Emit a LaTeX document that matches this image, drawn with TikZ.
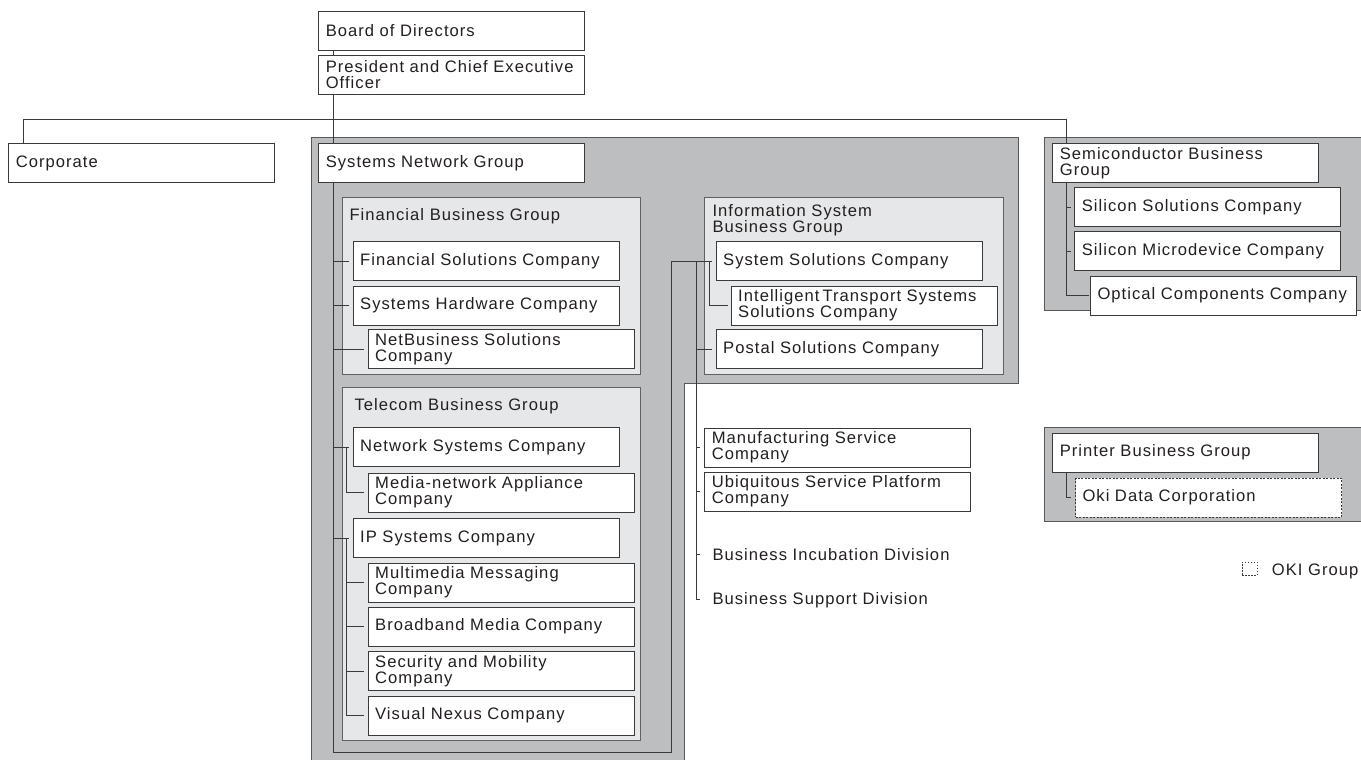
\documentclass[tikz,border=0pt]{standalone}
\usepackage{fontspec}
\setmainfont{Liberation Sans}[LetterSpace=6.2]
\usepackage{xcolor}
\usetikzlibrary{positioning}
\definecolor{ink}{HTML}{231F20}
\definecolor{rule}{HTML}{3A3A3A}
\definecolor{darkgrp}{HTML}{BDBEC0}
\definecolor{lightgrp}{HTML}{E6E7E8}

\begin{document}
\begin{tikzpicture}[x=1pt, y=-1pt,
        font=\fontsize{16.6}{16}\selectfont,
        box/.style={draw=rule, line width=1pt, fill=white, anchor=north west, minimum height=39pt, text width=252pt, inner xsep=7pt, inner ysep=1.5pt, align=left, text=ink,
            execute at begin node={\hyphenpenalty=10000\exhyphenpenalty=10000}},
        okibox/.style={box, dash pattern=on 2pt off 1.5pt},
        groupbox/.style={draw=rule!80, line width=1pt, fill=lightgrp, anchor=north west, inner sep=0pt},
        area/.style={draw=rule!85, line width=1pt, fill=darkgrp},
        title/.style={anchor=base west, inner sep=0pt, text=ink},
        link/.style={draw=rule, line width=1pt},
        stub/.style={link, shorten >=4pt}
    ]
    \useasboundingbox (0,0) rectangle (1361,760);

    % grey company areas
    \path[area] (311.7,137.3) -- (1018.3,137.3) -- (1018.3,383.3) -- (684.3,383.3) -- (684.3,770) -- (311.7,770) -- cycle;
    \path[area] (1044.3,137.3) rectangle (1370,310);
    \path[area] (1044.3,427.7) rectangle (1370,521.7);

    % business groups inside the systems network group
    \node[groupbox, minimum width=298.3pt, minimum height=176.7pt] (fbg) at (341.7,197.3) {};
    \node[groupbox, minimum width=298.3pt, minimum height=353.3pt] (tbg) at (341.7,386.7) {};
    \node[groupbox, minimum width=299pt, minimum height=176.7pt] (isg) at (704.3,197.3) {};
    \node[title] (fbgname) at (349.3,220.7) {Financial Business Group};
    \node[title] (tbgname) at (354.3,410) {Telecom Business Group};
    \node[title, anchor=north west, align=left] (isgname) at (712.3,204.5) {Information System\\Business Group};

    % top of the tree
    \node[box] (board) at (318.3,10.7) {Board of Directors};
    \node[box] (ceo) at (318.3,55) {President and Chief Executive\\Officer};
    \node[box] (corporate) at (8.3,143.3) {Corporate};
    \node[box] (sng) at (318.3,143.3) {Systems Network Group};

    % financial
    \node[box] (fsc) at (352.7,241) {Financial Solutions Company};
    \node[box] (shc) at (352.7,285.7) {Systems Hardware Company};
    \node[box] (nbs) at (367.7,329.3) {NetBusiness Solutions\\Company};

    % telecom
    \node[box] (nsc) at (352.7,427.3) {Network Systems Company};
    \node[box] (mna) at (367.7,472.7) {Media-network Appliance\\Company};
    \node[box] (ipc) at (352.7,518.3) {IP Systems Company};
    \node[box] (mmc) at (367.7,562.7) {Multimedia Messaging\\Company};
    \node[box] (bmc) at (367.7,606.7) {Broadband Media Company};
    \node[box] (smc) at (367.7,651) {Security and Mobility\\Company};
    \node[box] (vnc) at (367.7,695.7) {Visual Nexus Company};

    % information systems
    \node[box] (ssc) at (715.7,241) {System Solutions Company};
    \node[box] (its) at (730.7,285.7) {Intelligent\kern3pt Transport Systems\\Solutions Company};
    \node[box] (psc) at (715.7,329.3) {Postal Solutions Company};

    % companies and divisions outside the groups
    \node[box] (msc) at (704.3,427.7) {Manufacturing Service\\Company};
    \node[box] (usp) at (704.3,471.7) {Ubiquitous Service Platform\\Company};
    \node[title] (bid) at (712.3,560) {Business Incubation Division};
    \node[title] (bsd) at (712.3,604) {Business Support Division};

    % semiconductor
    \node[box] (sbg) at (1052.3,143.3) {Semiconductor Business\\Group};
    \node[box] (ssol) at (1074.3,187.3) {Silicon Solutions Company};
    \node[box] (smd) at (1074.3,231) {Silicon Microdevice Company};
    \node[box] (occ) at (1090,275.7) {Optical Components Company};

    % printer
    \node[box] (pbg) at (1052.3,432.7) {Printer Business Group};
    \node[okibox] (odc) at (1075,477.7) {Oki Data Corporation};

    % legend
    \node[draw=rule, line width=0.8pt, dash pattern=on 1.5pt off 1.5pt, anchor=north west,
          minimum width=15pt, minimum height=13pt, inner sep=0pt] (okikey) at (1241.7,561.7) {};
    \node[title] (okiname) at (1271.7,575.7) {OKI Group};

    % connector columns
    \coordinate (trunk) at ([xshift=15pt]board.south west);
    \coordinate (tsub) at (346,0);
    \coordinate (loop) at (671.7,752.7);
    \coordinate (isub) at (696,0);
    \coordinate (itsub) at (709.3,0);
    \coordinate (semx) at ([xshift=14.4pt]sbg.south west);

    \draw[link] (board.south -| trunk) -- (ceo.north -| trunk);
    \draw[link] (ceo.south -| trunk) -- (sng.north -| trunk);
    \draw[link] ([xshift=15pt]corporate.north west) -- ++(0,-24) -| (sbg.north -| semx);

    % trunk down the systems network group and round to information systems
    \draw[stub] (sng.south -| trunk) -- (trunk |- loop) -- (loop) -- (loop |- ssc.west) -- (ssc.west);
    \draw[stub] (trunk |- fsc.west) -- (fsc.west);
    \draw[stub] (trunk |- shc.west) -- (shc.west);
    \draw[stub] (trunk |- nbs.west) -- (nbs.west);
    \draw[stub] (trunk |- nsc.west) -- (nsc.west);
    \draw[stub] (trunk |- ipc.west) -- (ipc.west);
    \draw[stub] (tsub |- nsc.west) |- (mna.west);
    \draw[stub] (tsub |- ipc.west) |- (vnc.west);
    \foreach \co in {mmc,bmc,smc}
        \draw[stub] (tsub |- \co.west) -- (\co.west);

    % information systems column
    \draw[link] (isub |- ssc.west) -- (isub |- bsd.west) -- ++(3.5,0);
    \draw[stub] (isub |- psc.west) -- (psc.west);
    \draw[link, shorten >=2.4pt] (itsub |- ssc.west) |- (its.west);
    \foreach \co in {msc,usp,bid}
        \draw[link] (isub |- \co.west) -- ++(3.5,0);

    % semiconductor and printer
    \draw[link, shorten >=0.7pt] (semx |- sbg.south) |- (occ.west);
    \draw[link] (semx |- ssol.west) -- ++(4,0);
    \draw[link] (semx |- smd.west) -- ++(4,0);
    \draw[stub] (semx |- pbg.south) |- (odc.west);
\end{tikzpicture}
\end{document}
